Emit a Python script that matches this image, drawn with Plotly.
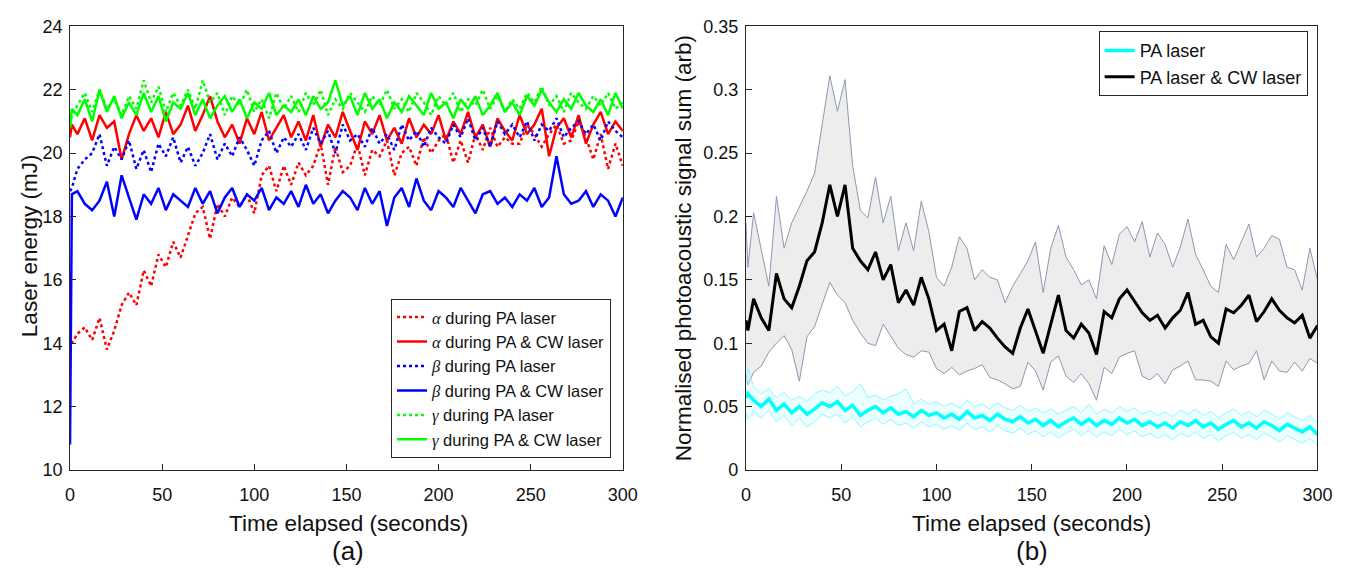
import plotly.graph_objects as go

# ---------------- data ----------------
time_s = [0, 1,
          4, 8, 12, 16, 20, 24, 28, 32, 36, 40,
          44, 48, 52, 56, 60, 64, 68, 72, 76, 80,
          84, 88, 92, 96, 100, 104, 108, 112, 116, 120,
          124, 128, 132, 136, 140, 144, 148, 152, 156, 160,
          164, 168, 172, 176, 180, 184, 188, 192, 196, 200,
          204, 208, 212, 216, 220, 224, 228, 232, 236, 240,
          244, 248, 252, 256, 260, 264, 268, 272, 276, 280,
          284, 288, 292, 296, 300]

alpha_pa = [13.8, 14.0,
            14.3, 14.5, 14.1, 14.8, 13.8, 14.4, 15.2, 15.6, 15.2, 16.3,
            15.8, 16.8, 16.4, 17.2, 16.7, 17.4, 18.1, 18.3, 17.3, 18.4,
            18.0, 18.6, 18.3, 18.7, 18.1, 19.3, 19.6, 18.8, 19.6, 19.0,
            19.7, 19.3, 19.6, 20.3, 19.0, 20.2, 19.4, 19.6, 20.3, 19.3,
            20.1, 19.9, 20.4, 19.3, 20.0, 20.2, 19.6, 20.5, 20.0, 20.4,
            20.6, 19.7, 20.4, 19.7, 20.6, 20.1, 20.8, 20.2, 20.5, 20.3,
            20.3, 20.9, 20.6, 20.2, 20.6, 20.9, 20.3, 20.4, 21.0, 20.5,
            19.8, 20.6, 19.5, 20.3, 19.6]
alpha_pa_cw = [20.5, 20.9,
               20.6, 21.1, 20.4, 21.2, 20.8, 21.0, 19.8, 20.6, 21.2, 20.7,
               21.1, 20.5, 21.3, 20.6, 20.9, 21.5, 20.7, 21.2, 21.8, 21.0,
               20.5, 20.9, 20.3, 21.1, 20.6, 21.3, 20.4, 20.8, 21.2, 20.5,
               21.0, 20.4, 21.2, 20.2, 20.9, 20.5, 21.3, 20.7, 20.1, 21.0,
               20.6, 21.2, 20.4, 20.8, 20.3, 21.1, 20.5, 20.9, 20.6, 21.2,
               20.4, 21.0, 20.6, 21.3, 20.5, 20.9, 20.2, 21.1, 20.7, 20.4,
               21.2, 20.6, 20.9, 21.4, 19.9, 20.8, 21.1, 20.5, 21.2, 20.3,
               20.9, 21.3, 20.6, 21.0, 20.7]
beta_pa = [18.8, 18.9,
           19.5, 19.8, 20.0, 20.6, 19.6, 20.2, 19.8, 20.4, 19.5, 20.1,
           19.4, 20.3, 19.9, 20.5, 19.7, 20.2, 19.6, 20.0, 20.6, 19.8,
           20.3, 19.9, 20.5, 20.1, 19.6, 20.4, 20.7, 20.0, 20.5, 20.2,
           20.6, 20.1, 20.8, 20.3, 20.7, 20.0, 20.9, 20.4, 20.6, 20.2,
           20.8, 20.3, 20.6, 20.1, 20.9, 20.4, 20.7, 20.2, 20.8, 20.5,
           20.3, 20.9, 20.5, 21.1, 20.4, 20.8, 20.2, 21.0, 20.6, 20.9,
           20.5, 21.0, 20.4, 20.9, 20.7, 21.1, 20.5, 20.8, 21.0, 20.6,
           20.9, 20.4, 21.0, 20.7, 20.5]
beta_pa_cw = [10.8, 18.7,
              18.8, 18.4, 18.2, 18.5, 19.1, 18.0, 19.3, 18.6, 17.9, 18.7,
              18.4, 18.9, 18.2, 18.7, 18.5, 18.3, 18.9, 18.4, 18.8, 18.1,
              18.6, 18.9, 18.3, 18.7, 18.5, 18.9, 18.2, 18.6, 18.4, 18.8,
              18.3, 19.0, 18.4, 18.7, 18.1, 18.5, 18.8, 18.6, 18.2, 18.9,
              18.4, 18.8, 17.7, 18.6, 18.9, 18.3, 19.2, 18.5, 18.2, 18.8,
              18.6, 18.3, 18.9, 18.5, 18.1, 18.7, 18.8, 18.4, 18.6, 18.3,
              18.7, 18.5, 18.9, 18.3, 18.6, 19.9, 18.7, 18.4, 18.5, 18.8,
              18.3, 18.7, 18.5, 18.0, 18.6]
gamma_pa = [20.9, 21.2,
            21.5, 21.9, 21.3, 22.0, 21.4, 21.7, 21.2, 21.8, 21.4, 22.3,
            21.6, 22.1, 21.3, 21.9, 21.5, 22.0, 21.4, 22.3, 21.6, 21.9,
            21.2, 21.8, 21.5, 22.0, 21.3, 21.7, 21.1, 21.9, 21.4, 21.8,
            21.3, 21.9, 21.5, 22.0, 21.2, 21.7, 21.4, 21.9, 21.6, 21.3,
            21.8, 21.5, 22.0, 21.4, 21.7, 21.3, 21.9, 21.6, 21.2, 21.8,
            21.5, 21.9, 21.3, 21.7, 21.5, 22.0, 21.4, 21.8, 21.3, 21.7,
            21.4, 21.9, 21.6, 22.1, 21.5, 21.8, 21.3, 21.9, 21.6, 21.4,
            21.8, 21.5, 21.9, 21.4, 21.6]
gamma_pa_cw = [20.8, 21.4,
               21.2, 21.7, 21.0, 22.0, 21.3, 21.8, 21.1, 21.6, 21.2, 21.9,
               21.3, 21.8, 21.0, 21.6, 21.4, 21.9, 21.2, 21.7, 21.1, 21.5,
               21.8, 21.3, 21.7, 21.1, 21.6, 21.4, 21.9, 21.2, 21.5, 21.3,
               21.7, 21.2, 21.8, 21.4, 21.6, 22.3, 21.5, 21.8, 21.2, 21.9,
               21.4, 21.7, 21.1, 21.6, 21.3, 21.8, 21.5, 21.2, 21.9, 21.4,
               21.6, 21.1, 21.7, 21.4, 21.8, 21.2, 21.5, 21.9, 21.3, 21.6,
               21.2, 21.8, 21.5, 22.0, 21.6, 21.3, 21.7, 21.4, 21.9, 21.5,
               21.3, 21.7, 21.2, 21.9, 21.4]

pa_cw = [0.118, 0.110,
         0.135, 0.120, 0.110, 0.155, 0.135, 0.128, 0.145, 0.165, 0.172, 0.195,
         0.225, 0.200, 0.225, 0.175, 0.165, 0.158, 0.172, 0.150, 0.162, 0.132,
         0.142, 0.130, 0.152, 0.135, 0.110, 0.115, 0.094, 0.125, 0.128, 0.110,
         0.117, 0.112, 0.104, 0.097, 0.092, 0.112, 0.127, 0.110, 0.092, 0.115,
         0.138, 0.110, 0.104, 0.115, 0.108, 0.091, 0.125, 0.120, 0.135, 0.142,
         0.133, 0.124, 0.118, 0.122, 0.112, 0.120, 0.126, 0.140, 0.115, 0.118,
         0.105, 0.100, 0.127, 0.124, 0.130, 0.138, 0.117, 0.125, 0.135, 0.126,
         0.120, 0.116, 0.122, 0.104, 0.114]
pa_cw_upper = [0.195, 0.160,
               0.203, 0.175, 0.145, 0.216, 0.175, 0.195, 0.207, 0.220, 0.234, 0.272,
               0.311, 0.283, 0.308, 0.240, 0.205, 0.199, 0.231, 0.195, 0.216, 0.173,
               0.195, 0.173, 0.212, 0.188, 0.152, 0.145, 0.160, 0.184, 0.175, 0.150,
               0.158, 0.152, 0.150, 0.132, 0.145, 0.155, 0.165, 0.180, 0.140, 0.175,
               0.193, 0.168, 0.158, 0.146, 0.150, 0.135, 0.177, 0.162, 0.186, 0.192,
               0.180, 0.196, 0.168, 0.187, 0.178, 0.160, 0.176, 0.198, 0.170, 0.158,
               0.145, 0.140, 0.178, 0.166, 0.180, 0.194, 0.168, 0.175, 0.185, 0.182,
               0.160, 0.158, 0.142, 0.175, 0.150]
pa_cw_lower = [0.075, 0.067,
               0.077, 0.082, 0.093, 0.100, 0.106, 0.095, 0.070, 0.105, 0.113, 0.131,
               0.148, 0.138, 0.132, 0.118, 0.108, 0.100, 0.098, 0.115, 0.105, 0.096,
               0.091, 0.089, 0.094, 0.093, 0.080, 0.076, 0.081, 0.075, 0.078, 0.080,
               0.083, 0.073, 0.071, 0.068, 0.064, 0.066, 0.085, 0.078, 0.063, 0.085,
               0.090, 0.074, 0.069, 0.076, 0.068, 0.055, 0.081, 0.076, 0.089, 0.092,
               0.094, 0.074, 0.071, 0.076, 0.068, 0.079, 0.082, 0.086, 0.071, 0.071,
               0.070, 0.066, 0.086, 0.079, 0.082, 0.084, 0.094, 0.071, 0.086, 0.078,
               0.077, 0.085, 0.078, 0.088, 0.084]
pa_only = [0.057, 0.060,
           0.055, 0.050, 0.056, 0.047, 0.052, 0.045, 0.050, 0.044, 0.048, 0.053,
           0.050, 0.054, 0.047, 0.051, 0.043, 0.047, 0.050, 0.045, 0.049, 0.044,
           0.046, 0.042, 0.047, 0.043, 0.045, 0.041, 0.044, 0.040, 0.046, 0.041,
           0.043, 0.039, 0.044, 0.040, 0.038, 0.042, 0.037, 0.040, 0.035, 0.039,
           0.034, 0.038, 0.041, 0.036, 0.040, 0.035, 0.039, 0.036, 0.041, 0.037,
           0.040, 0.035, 0.038, 0.034, 0.037, 0.033, 0.038, 0.035, 0.039, 0.034,
           0.037, 0.032, 0.036, 0.039, 0.034, 0.037, 0.033, 0.038, 0.035, 0.031,
           0.036, 0.033, 0.030, 0.034, 0.028]
pa_only_upper = [0.068, 0.080,
                 0.066, 0.060, 0.064, 0.057, 0.061, 0.055, 0.058, 0.054, 0.060, 0.063,
                 0.061, 0.066, 0.058, 0.062, 0.068, 0.057, 0.059, 0.055, 0.058, 0.060,
                 0.064, 0.052, 0.056, 0.052, 0.054, 0.050, 0.053, 0.049, 0.055, 0.050,
                 0.052, 0.048, 0.053, 0.049, 0.047, 0.051, 0.046, 0.049, 0.045, 0.048,
                 0.044, 0.047, 0.050, 0.045, 0.052, 0.044, 0.048, 0.045, 0.050, 0.046,
                 0.049, 0.044, 0.047, 0.043, 0.046, 0.042, 0.047, 0.044, 0.048, 0.043,
                 0.046, 0.041, 0.045, 0.048, 0.043, 0.046, 0.042, 0.047, 0.044, 0.040,
                 0.045, 0.042, 0.039, 0.043, 0.037]
pa_only_lower = [0.045, 0.040,
                 0.046, 0.041, 0.047, 0.038, 0.043, 0.035, 0.041, 0.034, 0.038, 0.044,
                 0.041, 0.044, 0.037, 0.042, 0.034, 0.038, 0.041, 0.036, 0.040, 0.035,
                 0.037, 0.033, 0.038, 0.034, 0.036, 0.032, 0.035, 0.031, 0.037, 0.032,
                 0.034, 0.030, 0.035, 0.031, 0.029, 0.033, 0.028, 0.031, 0.026, 0.030,
                 0.025, 0.029, 0.032, 0.027, 0.031, 0.026, 0.030, 0.027, 0.032, 0.028,
                 0.031, 0.026, 0.029, 0.025, 0.028, 0.024, 0.029, 0.026, 0.030, 0.025,
                 0.028, 0.023, 0.027, 0.030, 0.025, 0.028, 0.024, 0.029, 0.026, 0.022,
                 0.027, 0.024, 0.021, 0.025, 0.019]

x_ticks = [0, 50, 100, 150, 200, 250, 300]
left_y_ticks = [10, 12, 14, 16, 18, 20, 22, 24]
right_y_ticks = [0, 0.05, 0.1, 0.15, 0.2, 0.25, 0.3, 0.35]
right_y_labels = ["0", "0.05", "0.1", "0.15", "0.2", "0.25", "0.3", "0.35"]

# ---------------- figure ----------------
W, H = 1366, 575
FONT = "Liberation Sans, Arial, sans-serif"
AX = "#262626"
TXT = "#111111"
GREEK = "<span style=\"font-family:'Liberation Serif',serif\"><i>{}</i></span>"


def px(x):
    return x / W


def py(y):
    return 1 - y / H


fig = go.Figure()
left_series = [
    (alpha_pa, "#ff0000", "dot", GREEK.format("α") + " during PA laser"),
    (alpha_pa_cw, "#ff0000", "solid", GREEK.format("α") + " during PA &amp; CW laser"),
    (beta_pa, "#0000ff", "dot", GREEK.format("β") + " during PA laser"),
    (beta_pa_cw, "#0000ff", "solid", GREEK.format("β") + " during PA &amp; CW laser"),
    (gamma_pa, "#00ff00", "dot", GREEK.format("γ") + " during PA laser"),
    (gamma_pa_cw, "#00ff00", "solid", GREEK.format("γ") + " during PA &amp; CW laser"),
]
for vals, col, dash, name in left_series:
    fig.add_trace(go.Scatter(x=time_s, y=vals, mode="lines", name=name,
                             line=dict(color=col, width=2.5, dash=dash),
                             xaxis="x", yaxis="y", legend="legend"))
fig.add_trace(go.Scatter(x=time_s, y=pa_cw_lower, mode="lines", showlegend=False,
                         line=dict(color="#8e97b3", width=1), xaxis="x2", yaxis="y2"))
fig.add_trace(go.Scatter(x=time_s, y=pa_cw_upper, mode="lines", showlegend=False,
                         line=dict(color="#8e97b3", width=1), fill="tonexty",
                         fillcolor="rgba(225,225,225,0.6)", xaxis="x2", yaxis="y2"))
fig.add_trace(go.Scatter(x=time_s, y=pa_only_lower, mode="lines", showlegend=False,
                         line=dict(color="#8ff8ff", width=1), xaxis="x2", yaxis="y2"))
fig.add_trace(go.Scatter(x=time_s, y=pa_only_upper, mode="lines", showlegend=False,
                         line=dict(color="#8ff8ff", width=1), fill="tonexty",
                         fillcolor="rgba(200,255,255,0.35)", xaxis="x2", yaxis="y2"))
fig.add_trace(go.Scatter(x=time_s, y=pa_only, mode="lines", name="PA laser",
                         line=dict(color="#00ffff", width=3.5), xaxis="x2", yaxis="y2",
                         legend="legend2"))
fig.add_trace(go.Scatter(x=time_s, y=pa_cw, mode="lines", name="PA laser &amp; CW laser",
                         line=dict(color="#000000", width=3), xaxis="x2", yaxis="y2",
                         legend="legend2"))

axis_common = dict(showline=True, mirror=True, linecolor=AX, linewidth=1,
                   ticks="inside", ticklen=6, tickcolor=AX, tickwidth=1,
                   showgrid=False, zeroline=False, ticklabeloverflow="allow",
                   tickfont=dict(family=FONT, size=18, color=TXT))

ydom = [py(476.5), py(17)]
fig.update_layout(
    width=W, height=H,
    margin=dict(l=0, r=0, t=0, b=0),
    paper_bgcolor="white", plot_bgcolor="white",
    font=dict(family=FONT, color=TXT),
    xaxis=dict(domain=[px(66), px(627)], range=[0, 300], tickvals=x_ticks,
               anchor="y", ticklabelstandoff=8, **axis_common),
    yaxis=dict(domain=ydom, range=[10, 24], tickvals=left_y_ticks,
               anchor="x", ticklabelstandoff=3, **axis_common),
    xaxis2=dict(domain=[px(752), px(1332)], range=[0, 300], tickvals=x_ticks,
                anchor="y2", ticklabelstandoff=8, **axis_common),
    yaxis2=dict(domain=ydom, range=[0, 0.35], tickvals=right_y_ticks,
                ticktext=right_y_labels, anchor="x2", ticklabelstandoff=3,
                **axis_common),
    legend=dict(x=px(615), y=py(464), xanchor="right", yanchor="bottom",
                bgcolor="white", bordercolor=AX, borderwidth=1,
                font=dict(family=FONT, size=16.5, color=TXT),
                traceorder="normal", tracegroupgap=0),
    legend2=dict(x=px(1322), y=py(22), xanchor="right", yanchor="top",
                 bgcolor="white", bordercolor=AX, borderwidth=1,
                 font=dict(family=FONT, size=18, color=TXT),
                 traceorder="normal"),
)

ann_font = dict(family=FONT, size=22.5, color=TXT)
annotations = [
    dict(text="Time elapsed (seconds)", x=px(349), y=py(532)),
    dict(text="Time elapsed (seconds)", x=px(1042), y=py(532)),
    dict(text="Laser energy (mJ)", x=px(25), y=py(244), textangle=-90),
    dict(text="Normalised photoacoustic signal sum (arb)", x=px(688), y=py(247),
         textangle=-90),
]
for a in annotations:
    fig.add_annotation(xref="paper", yref="paper", showarrow=False,
                       xanchor="center", yanchor="middle", font=ann_font, **a)
for txt, xc in [("(a)", 348), ("(b)", 1042)]:
    fig.add_annotation(text=txt, xref="paper", yref="paper", x=px(xc), y=py(561),
                       showarrow=False, xanchor="center", yanchor="middle",
                       font=dict(family=FONT, size=26, color=TXT))

# remove the default page margin so the 1366x575 figure fills the window exactly
page_fix = ("document.body.style.margin='0';"
            "document.body.style.overflow='hidden';"
            "document.documentElement.style.overflow='hidden';")
fig.write_html("out.html", post_script=page_fix,
               config={"displayModeBar": False, "responsive": False})
